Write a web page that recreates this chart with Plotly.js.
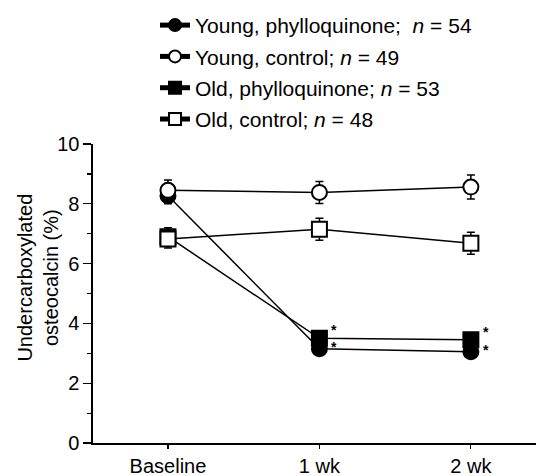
<!DOCTYPE html>
<html>
<head>
<meta charset="utf-8">
<script src="https://cdn.plot.ly/plotly-3.0.1.min.js"></script>
<style>html,body{margin:0;padding:0;background:#fff}#chart{width:536px;height:476px}</style>
</head>
<body>
<div id="chart"></div>
<script>
var timepoints = ["Baseline", "1 wk", "2 wk"];
var seriesNames = [
  "Young, phylloquinone;&nbsp;&nbsp;<i>n</i> = 54",
  "Young, control; <i>n</i> = 49",
  "Old, phylloquinone; <i>n</i> = 53",
  "Old, control; <i>n</i> = 48"
];
var youngPhyllo = [8.27, 3.15, 3.05];
var youngPhylloErr = [0.27, 0.15, 0.15];
var youngControl = [8.45, 8.38, 8.56];
var youngControlErr = [0.35, 0.37, 0.4];
var oldPhyllo = [6.9, 3.5, 3.45];
var oldPhylloErr = [0.3, 0.15, 0.15];
var oldControl = [6.82, 7.15, 6.68];
var oldControlErr = [0.3, 0.37, 0.37];
var significant = [false, true, true];
var yTicks = [0, 2, 4, 6, 8, 10];

var FONT = "Liberation Sans, Arial, Helvetica, sans-serif";

function mk(name, y, err, symbol, fill, rank) {
  return {
    type: "scatter", mode: "lines+markers", name: name,
    x: timepoints, y: y,
    legendgroup: "g" + rank, legendrank: rank,
    line: {color: "#000", width: 1.5},
    marker: {symbol: symbol, size: 15, color: fill, line: {color: "#000", width: 2}},
    error_y: {type: "data", array: err, visible: true, color: "#000", thickness: 1.5, width: 4},
    cliponaxis: false
  };
}

var traces = [
  mk(seriesNames[0], youngPhyllo, youngPhylloErr, "circle", "#000", 1),
  mk(seriesNames[2], oldPhyllo, oldPhylloErr, "square", "#000", 3),
  mk(seriesNames[1], youngControl, youngControlErr, "circle", "#fff", 2),
  mk(seriesNames[3], oldControl, oldControlErr, "square", "#fff", 4)
];

var annotations = [];
for (var i = 0; i < timepoints.length; i++) {
  if (!significant[i]) continue;
  annotations.push({x: timepoints[i], y: oldPhyllo[i], xref: "x", yref: "y", text: "<b>*</b>", showarrow: false,
    xshift: 15, yshift: 8, borderpad: 0, font: {family: FONT, size: 14, color: "#000"}});
  annotations.push({x: timepoints[i], y: youngPhyllo[i], xref: "x", yref: "y", text: "<b>*</b>", showarrow: false,
    xshift: 15, yshift: 2, borderpad: 0, font: {family: FONT, size: 14, color: "#000"}});
}
annotations.push({
  xref: "paper", yref: "paper", x: -0.125, y: 0.552, xanchor: "center", yanchor: "middle",
  text: "Undercarboxylated<br>osteocalcin (%)", textangle: -90, showarrow: false,
  font: {family: FONT, size: 20, color: "#000"}
});

var layout = {
  width: 536, height: 476,
  margin: {l: 93, r: 0, t: 144, b: 33},
  paper_bgcolor: "#fff", plot_bgcolor: "#fff",
  font: {family: FONT, size: 20, color: "#000"},
  showlegend: true,
  legend: {x: 0.14, y: 1.465, xanchor: "left", yanchor: "top", traceorder: "grouped", tracegroupgap: 1,
    font: {family: FONT, size: 21, color: "#000"}, bgcolor: "rgba(0,0,0,0)", itemsizing: "constant"},
  xaxis: {
    type: "category", range: [-0.495, 2.43],
    showline: true, linecolor: "#000", linewidth: 1.6,
    ticks: "outside", ticklen: 4, tickwidth: 1.2, tickcolor: "#000",
    showgrid: false, zeroline: false,
    tickfont: {family: FONT, size: 20, color: "#000"}
  },
  yaxis: {
    range: [0, 10], tickvals: yTicks,
    showline: true, linecolor: "#000", linewidth: 1.6,
    ticks: "outside", ticklen: 8, tickwidth: 1.2, tickcolor: "#000",
    minor: {dtick: 1, ticks: "outside", ticklen: 4, tickwidth: 1.2, tickcolor: "#000", showgrid: false},
    showgrid: false, zeroline: false,
    tickfont: {family: FONT, size: 20, color: "#000"}
  },
  shapes: [{type: "line", xref: "paper", yref: "paper", x0: -0.02, x1: 0, y0: 0, y1: 0,
    line: {color: "#000", width: 1.6}}],
  annotations: annotations
};

Plotly.newPlot("chart", traces, layout, {displayModeBar: false, staticPlot: true});
</script>
</body>
</html>
